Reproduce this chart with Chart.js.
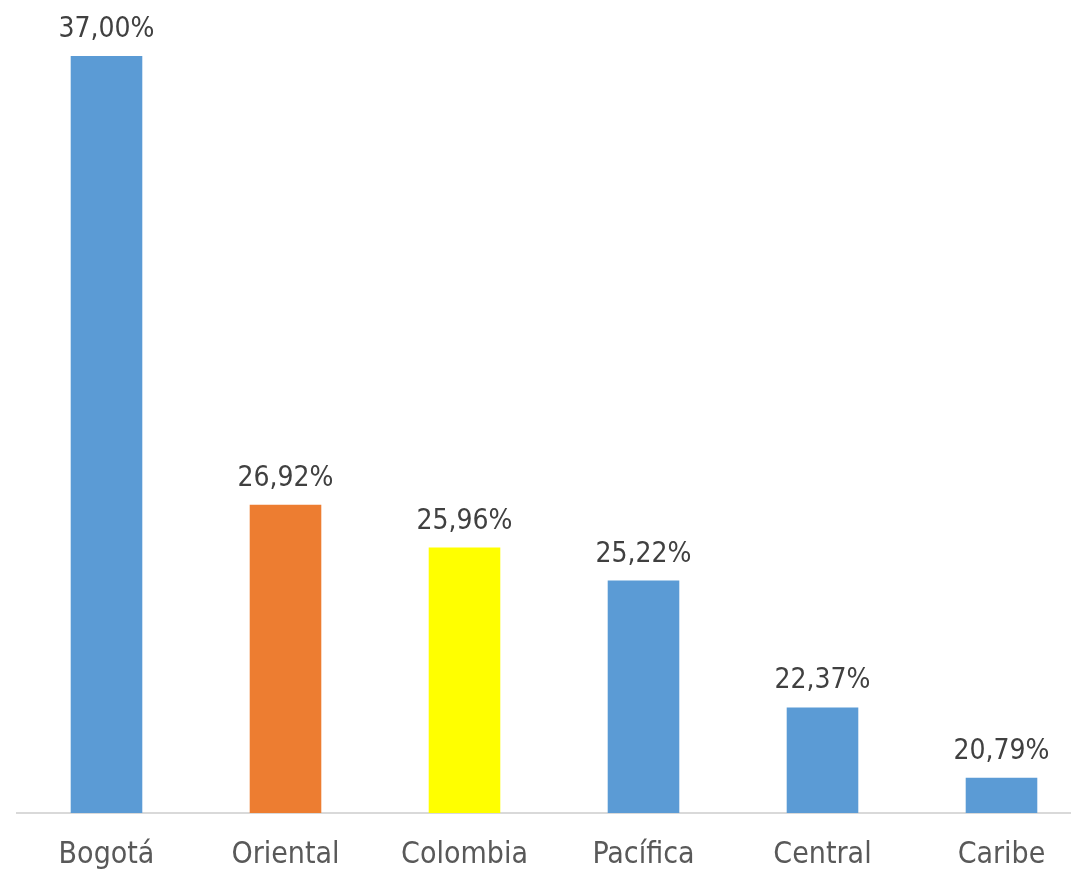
<!DOCTYPE html>
<html>
<head>
<meta charset="utf-8">
<script src="https://cdn.jsdelivr.net/npm/chart.js@4"></script>
<style>
  html, body { margin: 0; padding: 0; background: #fff; overflow: hidden; }
  #wrap { width: 1091px; height: 870px; }
</style>
</head>
<body>
<div id="wrap"><canvas id="bar-chart"></canvas></div>
<script>
const regions = ["Bogotá", "Oriental", "Colombia", "Pacífica", "Central", "Caribe"];
const shares = [37.00, 26.92, 25.96, 25.22, 22.37, 20.79];
const barColors = ["#5b9bd5", "#ed7d31", "#ffff00", "#5b9bd5", "#5b9bd5", "#5b9bd5"];
const axisMin = 20;
const axisMax = 37;

const FONT = "'DejaVu Sans Condensed', 'DejaVu Sans', sans-serif";

// draws the percent labels above each bar
const valueLabels = {
    id: 'valueLabels',
    afterDatasetsDraw(chart) {
        const ctx = chart.ctx;
        const meta = chart.getDatasetMeta(0);
        ctx.save();
        ctx.font = '28px ' + FONT;
        ctx.fillStyle = '#404040';
        ctx.textAlign = 'center';
        ctx.textBaseline = 'alphabetic';
        meta.data.forEach((bar, i) => {
            const txt = shares[i].toFixed(2).replace('.', ',') + '%';
            ctx.fillText(txt, bar.x, bar.y - 19);
        });
        ctx.restore();
    }
};

new Chart(document.getElementById('bar-chart'), {
    type: 'bar',
    data: {
        labels: regions,
        datasets: [{
            data: shares,
            backgroundColor: barColors,
            borderWidth: 0,
            categoryPercentage: 1,
            barPercentage: 0.4
        }]
    },
    options: {
        responsive: true,
        maintainAspectRatio: false,
        animation: false,
        layout: { padding: { left: 17, right: 0, top: 56, bottom: 0 } },
        plugins: {
            legend: { display: false },
            tooltip: { enabled: false }
        },
        scales: {
            y: {
                display: false,
                min: axisMin,
                max: axisMax
            },
            x: {
                grid: { display: false },
                border: { display: true, color: '#d9d9d9', width: 2 },
                ticks: {
                    color: '#595959',
                    font: { family: FONT, size: 30 },
                    padding: 16
                },
                afterFit(scale) { scale.height = 57; }
            }
        }
    },
    plugins: [valueLabels]
});
</script>
</body>
</html>
